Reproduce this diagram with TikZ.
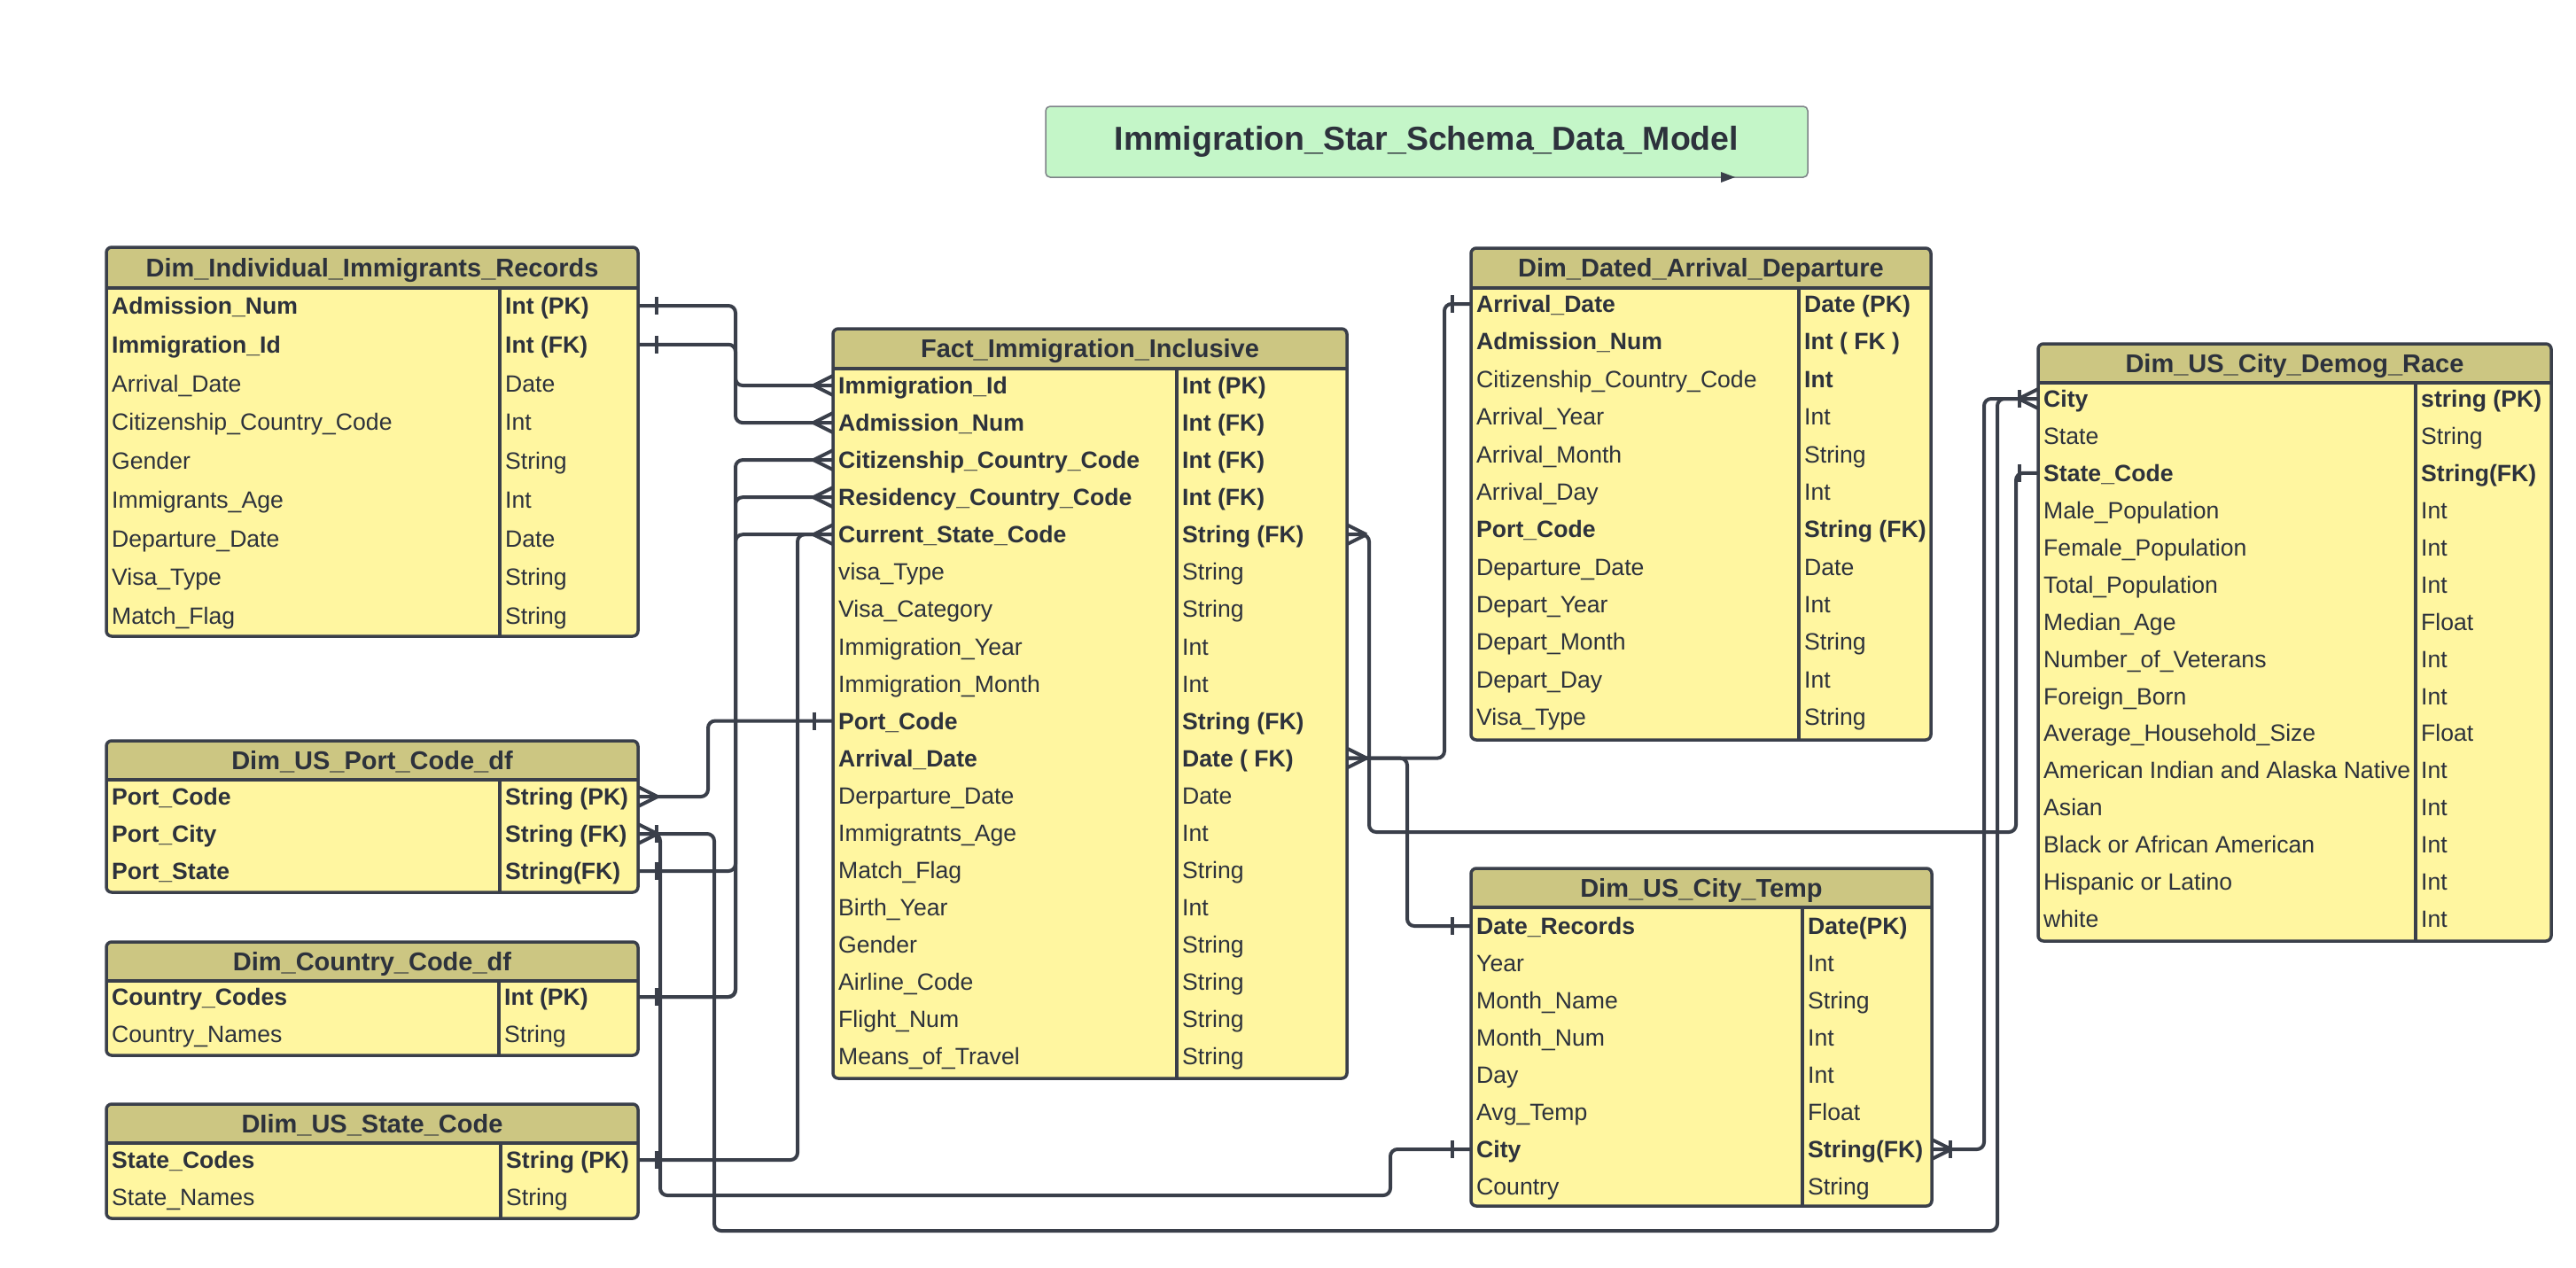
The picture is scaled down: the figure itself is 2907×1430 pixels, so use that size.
\documentclass[tikz,border=0pt]{standalone}
\usepackage{fontspec}
\setmainfont{Liberation Sans}
\usetikzlibrary{calc}
\definecolor{lc}{RGB}{58,63,74}
\definecolor{tc}{RGB}{45,50,60}
\definecolor{hdr}{RGB}{204,198,130}
\definecolor{body}{RGB}{255,246,160}
\definecolor{ttl}{RGB}{196,246,200}
\definecolor{ttlb}{RGB}{125,130,135}
\tikzset{
  conn/.style={draw=lc, line width=4pt, rounded corners=8pt},
  sym/.style={draw=lc, line width=4pt},
  rowbox/.style={inner sep=0pt, outer sep=0pt, minimum height=2pt},
  cellN/.style={anchor=base west, inner sep=0pt, text=tc, font=\fontsize{26.6}{30}\selectfont},
  cellB/.style={cellN, font=\fontsize{26.6}{30}\selectfont\bfseries},
  hdrtext/.style={anchor=base, inner sep=0pt, text=tc, font=\fontsize{29}{32}\selectfont\bfseries},
  ttlbox/.style={draw=ttlb, line width=1.5pt, fill=ttl, rounded corners=5pt, minimum width=860pt, minimum height=80pt, text=tc, inner sep=0pt, font=\fontsize{37.5}{40}\selectfont\bfseries},
  manyL/.pic={\draw[sym] (-22,0) -- (0,-11) (-22,0) -- (0,11);},
  manyR/.pic={\draw[sym] (22,0) -- (0,-11) (22,0) -- (0,11);},
  barL/.pic={\draw[sym] (-21,-10) -- (-21,10);},
  barR/.pic={\draw[sym] (21,-10) -- (21,10);}
}
\newcommand{\erd}[9]{%
  \def\tname{#1}\def\txl{#2}\def\txd{#3}\def\txr{#4}%
  \def\tyt{#5}\def\tyh{#6}\def\tyb{#7}\def\tyz{#9}%
  \erdrest{#8}}
\newcommand{\erdrest}[3]{%
  \begin{scope}
    \clip[rounded corners=6pt] (\txl,\tyt) rectangle (\txr,\tyb);
    \fill[body] (\txl,\tyt) rectangle (\txr,\tyb);
    \fill[hdr] (\txl,\tyt) rectangle (\txr,\tyh);
  \end{scope}
  \draw[lc, line width=3.5pt] (\txl,\tyh) -- (\txr,\tyh) (\txd,\tyh) -- (\txd,\tyb);
  \draw[lc, line width=3.5pt, rounded corners=6pt] (\txl,\tyt) rectangle (\txr,\tyb);
  \pgfmathsetmacro\tcx{(\txl+\txr)/2}%
  \pgfmathsetmacro\tcy{(\tyt+\tyh)/2+10.4}%
  \node[hdrtext] (\tname-h) at (\tcx,\tcy) {#1};
  \pgfmathsetmacro\tw{\txr-\txl}%
  \foreach \ssa/\ssb/\rn/\rt [count=\i] in {#3} {
    \pgfmathsetmacro\yy{\tyz+(\i-1)*#2}
    \node[rowbox, minimum width={\tw pt}] (\tname-\i) at (\tcx,\yy) {};
    \node[\ssa] (\tname-\i-n) at (\txl+6,\yy+9.6) {\rn};
    \node[\ssb] (\tname-\i-t) at (\txd+6,\yy+9.6) {\rt};
  }
}
\begin{document}
\begin{tikzpicture}[x=1pt,y=-1pt]
\useasboundingbox (0,0) rectangle (2907,1430);
\fill[white] (0,0) rectangle (2907,1430);

% title
\node[ttlbox] (title) at (1610,160) {Immigration\_Star\_Schema\_Data\_Model};
\fill[lc] (1942,194) -- (1958,200) -- (1942,206) -- cycle;

% tables
\erd{t1}{120}{564}{720}{279}{325}{718}{Dim\_Individual\_Immigrants\_Records}{345}{43.75}{
cellB/cellB/Admission\_Num/Int (PK),
cellB/cellB/Immigration\_Id/Int (FK),
cellN/cellN/Arrival\_Date/Date,
cellN/cellN/Citizenship\_Country\_Code/Int,
cellN/cellN/Gender/String,
cellN/cellN/Immigrants\_Age/Int,
cellN/cellN/Departure\_Date/Date,
cellN/cellN/Visa\_Type/String,
cellN/cellN/Match\_Flag/String}

\erd{fact}{940}{1328}{1520}{371}{416}{1217}{Fact\_Immigration\_Inclusive}{435}{42.06}{
cellB/cellB/Immigration\_Id/Int (PK),
cellB/cellB/Admission\_Num/Int (FK),
cellB/cellB/Citizenship\_Country\_Code/Int (FK),
cellB/cellB/Residency\_Country\_Code/Int (FK),
cellB/cellB/Current\_State\_Code/String (FK),
cellN/cellN/visa\_Type/String,
cellN/cellN/Visa\_Category/String,
cellN/cellN/Immigration\_Year/Int,
cellN/cellN/Immigration\_Month/Int,
cellB/cellB/Port\_Code/String (FK),
cellB/cellB/Arrival\_Date/Date ( FK),
cellN/cellN/Derparture\_Date/Date,
cellN/cellN/Immigratnts\_Age/Int,
cellN/cellN/Match\_Flag/String,
cellN/cellN/Birth\_Year/Int,
cellN/cellN/Gender/String,
cellN/cellN/Airline\_Code/String,
cellN/cellN/Flight\_Num/String,
cellN/cellN/Means\_of\_Travel/String}

\erd{dated}{1660}{2030}{2179}{280}{325}{835}{Dim\_Dated\_Arrival\_Departure}{343}{42.36}{
cellB/cellB/Arrival\_Date/Date (PK),
cellB/cellB/Admission\_Num/Int ( FK ),
cellN/cellB/Citizenship\_Country\_Code/Int,
cellN/cellN/Arrival\_Year/Int,
cellN/cellN/Arrival\_Month/String,
cellN/cellN/Arrival\_Day/Int,
cellB/cellB/Port\_Code/String (FK),
cellN/cellN/Departure\_Date/Date,
cellN/cellN/Depart\_Year/Int,
cellN/cellN/Depart\_Month/String,
cellN/cellN/Depart\_Day/Int,
cellN/cellN/Visa\_Type/String}

\erd{demog}{2300}{2726}{2879}{388}{432}{1062}{Dim\_US\_City\_Demog\_Race}{450}{41.93}{
cellB/cellB/City/string (PK),
cellN/cellN/State/String,
cellB/cellB/State\_Code/String(FK),
cellN/cellN/Male\_Population/Int,
cellN/cellN/Female\_Population/Int,
cellN/cellN/Total\_Population/Int,
cellN/cellN/Median\_Age/Float,
cellN/cellN/Number\_of\_Veterans/Int,
cellN/cellN/Foreign\_Born/Int,
cellN/cellN/Average\_Household\_Size/Float,
cellN/cellN/American Indian and Alaska Native/Int,
cellN/cellN/Asian/Int,
cellN/cellN/Black or African American/Int,
cellN/cellN/Hispanic or Latino/Int,
cellN/cellN/white/Int}

\erd{port}{120}{564}{720}{836}{880}{1007}{Dim\_US\_Port\_Code\_df}{899}{42}{
cellB/cellB/Port\_Code/String (PK),
cellB/cellB/Port\_City/String (FK),
cellB/cellB/Port\_State/String(FK)}

\erd{country}{120}{563}{720}{1063}{1107}{1191}{Dim\_Country\_Code\_df}{1125}{42}{
cellB/cellB/Country\_Codes/Int (PK),
cellN/cellN/Country\_Names/String}

\erd{state}{120}{565}{720}{1246}{1290}{1375}{DIim\_US\_State\_Code}{1309}{42}{
cellB/cellB/State\_Codes/String (PK),
cellN/cellN/State\_Names/String}

\erd{temp}{1660}{2034}{2180}{980}{1024}{1361}{Dim\_US\_City\_Temp}{1045}{42}{
cellB/cellB/Date\_Records/Date(PK),
cellN/cellN/Year/Int,
cellN/cellN/Month\_Name/String,
cellN/cellN/Month\_Num/Int,
cellN/cellN/Day/Int,
cellN/cellN/Avg\_Temp/Float,
cellB/cellB/City/String(FK),
cellN/cellN/Country/String}

% routing points
\coordinate (a1) at (830,413);
\coordinate (b1) at (830,800);
\coordinate (c1) at (900,900);
\coordinate (d1) at (799,860);
\coordinate (e1) at (806,1389);
\coordinate (e2) at (2254,1389);
\coordinate (f1) at (745,1349);
\coordinate (f2) at (1569,1349);
\coordinate (g1) at (1545,939);
\coordinate (g2) at (2275,939);
\coordinate (h1) at (1630,600);
\coordinate (i1) at (1588,950);
\coordinate (j1) at (2239,900);

% connectors
\draw[conn] (t1-1.east) -| (a1) |- (fact-2.west);
\draw[conn] (t1-2.east) -| (a1) |- (fact-1.west);
\draw[conn] (country-1.east) -| (b1) |- (fact-3.west);
\draw[conn] (country-1.east) -| (b1) |- (fact-4.west);
\draw[conn] (port-3.east) -| (b1) |- (fact-5.west);
\draw[conn] (state-1.east) -| (c1) |- (fact-5.west);
\draw[conn] (port-1.east) -| (d1) |- (fact-10.west);
\draw[conn] (port-2.east) -| (e1) -- (e2) |- (demog-1.west);
\draw[conn] (port-2.east) -| (f1) -- (f2) |- (temp-7.west);
\draw[conn] (fact-5.east) -| (g1) -- (g2) |- (demog-3.west);
\draw[conn] (fact-11.east) -| (h1) |- (dated-1.west);
\draw[conn] (fact-11.east) -| (i1) |- (temp-1.west);
\draw[conn] (temp-7.east) -| (j1) |- (demog-1.west);

% end symbols
\foreach \k in {1,...,5} {\pic at (fact-\k.west) {manyL};}
\pic at (fact-5.east) {manyR};
\pic at (fact-11.east) {manyR};
\pic at (fact-10.west) {barL};
\pic at (t1-1.east) {barR};
\pic at (t1-2.east) {barR};
\pic at (port-1.east) {manyR};
\pic at (port-2.east) {manyR};
\pic at (port-2.east) {barR};
\pic at (port-3.east) {barR};
\pic at (country-1.east) {barR};
\pic at (state-1.east) {barR};
\pic at (dated-1.west) {barL};
\pic at (temp-1.west) {barL};
\pic at (temp-7.west) {barL};
\pic at (temp-7.east) {manyR};
\pic at (temp-7.east) {barR};
\pic at (demog-1.west) {manyL};
\pic at (demog-1.west) {barL};
\pic at (demog-3.west) {barL};
\end{tikzpicture}
\end{document}
